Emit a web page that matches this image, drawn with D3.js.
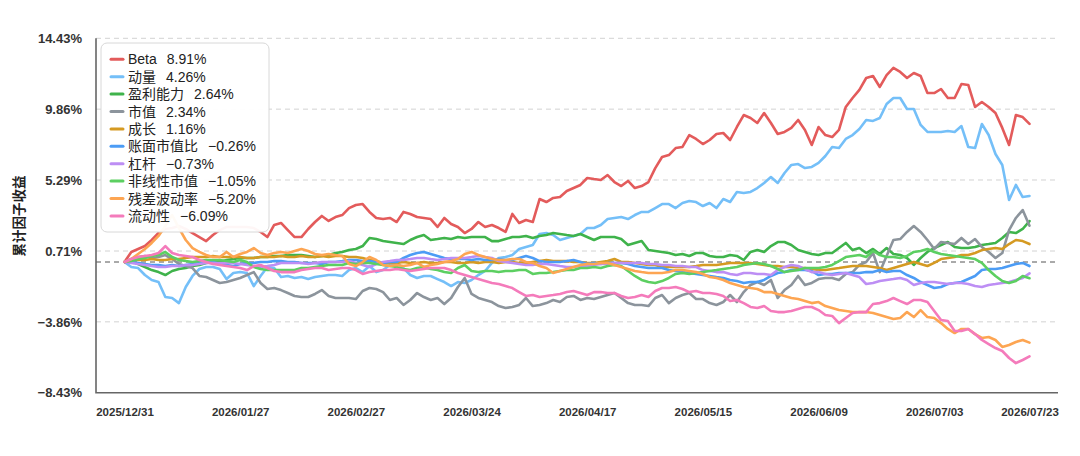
<!DOCTYPE html>
<html>
<head>
<meta charset="utf-8">
<script src="https://cdn.jsdelivr.net/npm/d3@7"></script>
<style>
	body { margin: 0; background: #fff; }
	svg { display: block; font-family: "Liberation Sans", Arial, "Noto Sans CJK SC", sans-serif; }
</style>
</head>
<body>
<div id="chart"></div>
<script>
const width = 1080,
	height = 456;

// x axis: trading days, labels every 17 days plus the last one
const tickIdx = [0, 17, 34, 51, 68, 85, 102, 119, 133];
const tickLabels = ["2025/12/31", "2026/01/27", "2026/02/27", "2026/03/24", "2026/04/17", "2026/05/15", "2026/06/09", "2026/07/03", "2026/07/23"];
const yTicks = [-8.43, -3.86, 0.71, 5.29, 9.86, 14.43];

const names = ["Beta", "动量", "盈利能力", "市值", "成长", "账面市值比", "杠杆", "非线性市值", "残差波动率", "流动性"];
const colors = ["#e35b5b", "#74bff8", "#3fb34b", "#8c949c", "#d59a22", "#4c9cf5", "#bd8ef4", "#5ccf61", "#fda552", "#f47bbb"];

const beta = [0, 0.65, 0.84, 1.03, 1.42, 1.87, 2.13, 2.19, 2.32, 2.13,
	1.87, 1.61, 1.35, 1.74, 2.06, 2.26, 2.26, 2.26, 2.26, 2.19,
	1.94, 1.61, 2.39, 2.52, 2.06, 1.61, 1.61, 2.13, 2.58, 2.97,
	2.65, 2.9, 3.03, 3.48, 3.68, 3.74, 3.23, 2.84, 2.77, 2.84,
	2.58, 3.23, 3.1, 2.9, 2.84, 2.77, 2.26, 2.84, 2.45, 2.26,
	1.87, 2.13, 2.58, 2.26, 2.39, 2.19, 1.94, 3.1, 2.52, 2.71,
	2.58, 4.06, 3.87, 4.13, 4.19, 4.58, 4.77, 4.97, 5.42, 5.35,
	5.29, 5.61, 5.16, 4.9, 5.23, 4.77, 4.9, 5.16, 6.06, 6.77,
	6.9, 7.35, 7.42, 8.19, 7.94, 7.61, 7.87, 8.26, 8.32, 7.87,
	8.71, 9.48, 9.29, 8.97, 9.61, 8.97, 8.26, 8.39, 8.65, 9.16,
	8.52, 7.55, 8.71, 8.19, 8.06, 8.52, 10.0, 10.58, 11.1, 11.87,
	12.0, 11.29, 12.06, 12.52, 12.26, 11.87, 12.19, 12.0, 10.9, 10.9,
	11.16, 10.58, 10.58, 11.48, 11.42, 10.0, 10.32, 10.0, 9.61, 8.65,
	7.55, 9.48, 9.35, 8.91];
const momentum = [0, -0.32, -0.39, -0.84, -1.16, -1.29, -2.26, -2.32, -2.65, -1.61,
	-0.9, -0.45, -0.32, -0.32, -0.45, -1.1, -0.71, -0.65, -0.71, -1.55,
	-0.9, -0.32, -0.39, -0.97, -0.9, -1.03, -0.97, -1.1, -0.97, -0.9,
	-0.84, -0.84, -0.9, -0.52, -0.39, -0.65, -0.26, -0.65, -0.52, -0.19,
	-0.06, -0.39, -0.84, -1.03, -0.9, -0.9, -1.1, -1.29, -1.55, -1.29,
	-1.35, -1.16, -0.84, -0.58, -0.06, 0.26, 0.32, 0.45, 0.84, 0.97,
	1.1, 1.81, 1.87, 1.74, 1.42, 1.55, 1.68, 1.81, 2.19, 2.19,
	2.39, 2.77, 2.84, 2.9, 2.77, 3.03, 3.23, 3.23, 3.48, 3.74,
	3.74, 3.48, 3.81, 3.94, 3.87, 3.61, 3.81, 3.48, 4.06, 3.87,
	4.52, 4.45, 4.52, 4.77, 5.1, 5.48, 5.1, 5.74, 6.26, 6.32,
	6.06, 6.13, 6.39, 6.84, 7.42, 7.35, 7.94, 8.19, 8.58, 9.16,
	9.1, 9.29, 10.19, 10.58, 10.58, 9.87, 9.87, 8.84, 8.39, 8.39,
	8.39, 8.45, 8.39, 8.77, 7.42, 7.35, 8.9, 8.19, 6.97, 6.26,
	4.0, 4.97, 4.19, 4.26];
const profitability = [0, 0.06, -0.13, -0.32, -0.52, -0.65, -0.84, -0.58, -0.45, -0.39,
	-0.26, -0.19, -0.06, 0, 0, 0.13, 0.19, 0.26, 0.26, 0.26,
	0.32, 0.32, 0.39, 0.39, 0.45, 0.45, 0.45, 0.39, 0.32, 0.39,
	0.45, 0.58, 0.65, 0.77, 0.84, 1.03, 1.55, 1.48, 1.35, 1.29,
	1.23, 1.16, 1.42, 1.61, 1.74, 1.42, 1.48, 1.55, 1.48, 1.61,
	1.55, 1.61, 1.61, 1.61, 1.35, 1.35, 1.48, 1.61, 1.61, 1.68,
	1.55, 1.68, 1.74, 1.87, 1.81, 1.74, 1.68, 1.81, 1.61, 1.42,
	1.61, 1.61, 1.61, 1.48, 1.1, 1.23, 1.35, 0.77, 0.71, 0.65,
	0.58, 0.45, 0.52, 0.39, 0.58, 0.58, 0.39, 0.32, 0.32, 0.45,
	0.39, 0.13, 0.65, 0.77, 0.65, 1.03, 1.29, 1.29, 1.1, 0.77,
	0.65, 0.52, 0.45, 0.58, 0.58, 0.9, 1.23, 0.77, 0.9, 0.58,
	0.84, 0.52, 0.9, 0.52, 0.45, 0.26, -0.19, 0.26, 0.65, 0.9,
	1.1, 1.29, 0.97, 0.9, 0.9, 0.97, 1.1, 1.16, 1.23, 1.55,
	1.94, 1.87, 2.13, 2.64];
const size = [0, 0.19, 0.32, 0.39, 0.26, 0.32, 0.45, 0.19, -0.13, -0.26,
	-0.39, -0.9, -0.97, -1.16, -1.35, -1.29, -1.16, -1.03, -0.84, -0.65,
	-1.35, -1.74, -1.68, -1.81, -2.0, -2.19, -2.26, -2.26, -2.06, -1.81,
	-2.19, -2.32, -2.32, -2.32, -2.39, -1.87, -1.68, -1.74, -1.94, -2.45,
	-2.32, -2.77, -2.45, -2.0, -2.26, -2.45, -2.32, -2.71, -2.32, -1.61,
	-1.03, -2.06, -2.32, -2.45, -2.58, -2.84, -2.97, -2.9, -2.77, -2.32,
	-2.84, -2.77, -2.65, -2.45, -2.58, -2.26, -2.19, -2.45, -2.32, -2.39,
	-2.26, -2.13, -2.0, -2.32, -2.65, -2.77, -2.77, -2.84, -2.32, -2.13,
	-2.65, -2.32, -2.13, -2.0, -2.39, -2.39, -2.65, -2.77, -2.58, -2.13,
	-2.58, -1.94, -1.48, -1.29, -1.48, -1.16, -2.32, -1.81, -1.48, -0.9,
	-1.48, -1.35, -1.1, -1.03, -1.03, -1.16, -0.77, -0.65, -0.19, 0,
	0.58, -0.65, 0.39, 1.42, 1.48, 1.94, 2.32, 1.94, 1.42, 0.84,
	1.29, 1.23, 1.16, 1.55, 1.16, 1.48, 0.97, 0.65, 0.26, 0.58,
	2.06, 2.84, 3.35, 2.34];
const growth = [0, 0.06, 0.13, 0.13, 0.19, 0.13, 0.13, 0.19, 0.19, 0.26,
	0.32, 0.32, 0.32, 0.39, 0.32, 0.32, 0.32, 0.32, 0.26, 0.26,
	0.32, 0.32, 0.32, 0.39, 0.32, 0.32, 0.39, 0.32, 0.32, 0.39,
	0.32, 0.39, 0.39, 0.32, 0.32, 0.26, 0.13, 0.06, -0.06, -0.06,
	-0.06, 0, -0.06, -0.06, 0, -0.06, -0.06, 0, 0, -0.06,
	-0.06, 0, -0.06, 0, 0, -0.06, 0, 0, -0.06, -0.06,
	0, 0.06, 0.13, 0.06, 0.06, 0.06, 0, 0, -0.06, -0.06,
	0, 0.06, 0.19, 0, 0, -0.06, -0.13, -0.19, -0.19, -0.32,
	-0.32, -0.32, -0.32, -0.32, -0.26, -0.19, -0.19, -0.19, -0.13, -0.06,
	-0.06, -0.06, -0.06, -0.13, -0.19, -0.26, -0.26, -0.32, -0.32, -0.39,
	-0.39, -0.45, -0.52, -0.52, -0.45, -0.39, -0.32, -0.26, -0.26, -0.26,
	-0.32, -0.39, -0.52, -0.39, -0.26, -0.13, 0, -0.13, -0.26, -0.06,
	0.19, 0.26, 0.32, 0.45, 0.45, 0.58, 0.77, 0.84, 0.9, 0.84,
	1.16, 1.42, 1.35, 1.16];
const bookToPrice = [0, 0, -0.06, -0.13, -0.19, -0.19, -0.26, -0.19, -0.26, -0.19,
	-0.13, -0.06, 0.06, 0, -0.13, -0.19, -0.26, -0.13, -0.06, -0.06,
	0, 0, 0.06, 0.06, 0, 0, -0.06, -0.06, -0.06, -0.13,
	0, 0, 0.06, 0.13, 0.13, 0.06, 0.06, 0, -0.06, 0,
	0, 0.26, 0.45, 0.58, 0.65, 0.52, 0.39, 0.26, 0.19, 0.19,
	0.19, 0.13, 0.19, 0.13, 0.13, 0.19, 0.13, 0.13, 0.26, 0.39,
	0.26, 0.06, 0, 0, 0, 0.06, 0.13, 0, -0.13, -0.06,
	-0.13, -0.06, -0.06, -0.06, -0.13, -0.26, -0.32, -0.39, -0.39, -0.39,
	-0.52, -0.58, -0.65, -0.71, -0.77, -0.84, -0.9, -0.97, -1.03, -1.16,
	-1.23, -1.35, -1.29, -1.29, -1.16, -0.9, -0.71, -0.65, -0.52, -0.52,
	-0.52, -0.58, -0.84, -0.77, -0.77, -0.71, -0.71, -0.71, -0.71, -0.65,
	-0.65, -0.52, -0.65, -0.58, -0.58, -0.84, -1.03, -1.29, -1.48, -1.68,
	-1.61, -1.42, -1.35, -1.29, -1.1, -0.9, -0.52, -0.45, -0.45, -0.39,
	-0.26, -0.13, -0.06, -0.26];
const leverage = [0, -0.06, -0.13, -0.19, -0.26, -0.32, -0.32, -0.26, -0.26, -0.19,
	-0.19, -0.13, -0.06, -0.06, -0.06, -0.06, -0.06, -0.13, -0.19, -0.26,
	-0.32, -0.26, -0.19, -0.06, -0.06, -0.06, -0.06, -0.13, -0.06, 0,
	0, 0, 0, 0.06, -0.06, -0.19, -0.32, -0.13, 0, 0.06,
	0.13, 0.13, 0.19, 0.26, 0.26, 0.19, 0.13, 0.19, 0.26, 0.26,
	0.26, 0.32, 0.39, 0.32, 0.26, 0.06, 0, -0.06, -0.13, -0.19,
	-0.19, -0.13, -0.13, -0.19, -0.26, -0.32, -0.32, -0.26, -0.26, -0.19,
	-0.13, -0.13, -0.06, -0.06, -0.06, -0.06, -0.06, -0.13, -0.13, -0.19,
	-0.19, -0.26, -0.26, -0.32, -0.32, -0.52, -0.58, -0.65, -0.65, -0.77,
	-0.84, -0.71, -0.71, -0.77, -0.77, -0.84, -0.52, -0.32, -0.19, -0.26,
	-0.45, -0.65, -0.65, -0.77, -0.84, -0.77, -0.71, -0.84, -0.97, -1.42,
	-1.35, -1.23, -1.16, -1.1, -1.03, -1.16, -1.48, -1.35, -1.29, -1.29,
	-1.35, -1.42, -1.35, -1.35, -1.42, -1.55, -1.61, -1.48, -1.42, -1.35,
	-1.29, -1.16, -1.03, -0.73];
const nonlinSize = [0, 0.06, 0.19, 0.26, 0.39, 0.45, 0.65, 0.32, 0.13, 0.06,
	0, 0.06, 0.13, 0.13, 0.13, 0.06, 0, 0.13, 0, -0.32,
	-0.45, -0.52, -0.52, -0.52, -0.52, -0.52, -0.39, -0.39, -0.32, -0.26,
	-0.19, -0.19, -0.19, -0.06, -0.13, -0.06, -0.06, -0.13, -0.19, -0.26,
	-0.32, -0.45, -0.52, -0.39, -0.32, -0.45, -0.52, -0.65, -0.71, -0.39,
	-0.19, -0.58, -0.65, -0.58, -0.58, -0.65, -0.58, -0.58, -0.52, -0.52,
	-0.77, -0.71, -0.71, -0.65, -0.58, -0.52, -0.52, -0.39, -0.39, -0.32,
	-0.39, -0.26, -0.19, -0.26, -0.58, -0.9, -1.16, -1.29, -1.35, -1.23,
	-1.03, -0.77, -0.71, -0.77, -0.71, -0.65, -0.58, -0.52, -0.45, -0.39,
	-0.32, -0.19, -0.13, -0.06, -0.13, -0.26, -0.45, -0.65, -0.58, -0.52,
	-0.39, -0.39, -0.39, -0.32, -0.19, 0.06, 0.32, 0.39, 0.45, 0.32,
	0.71, 0.45, 0.32, 0.32, 0.26, 0.39, 0.65, 0.71, 0.84, 0.65,
	0.52, 0.45, 0.39, 0.32, 0.26, 0.19, -0.06, -0.52, -0.9, -1.23,
	-1.35, -1.23, -0.9, -1.05];
const residVol = [0, 0.19, 0.52, 0.84, 1.23, 1.68, 2.32, 3.03, 2.19, 1.42,
	0.9, 0.65, 0.45, 0.32, 0.32, 0.65, 0.32, 0.52, 0.65, 0.9,
	0.58, 0.45, 0.58, 0.65, 0.58, 0.71, 0.84, 0.71, 0.52, 0.45,
	0.52, 0.45, 0.39, -0.13, -0.26, 0, 0.32, 0.13, -0.19, -0.26,
	-0.19, -0.26, -0.19, -0.06, -0.32, -0.19, -0.13, 0, 0.06, 0.19,
	0.52, 0.65, 0.45, 0.32, 0.19, 0.13, 0.13, 0.19, 0.19, 0,
	-0.06, -0.26, -0.39, -0.71, -0.58, -0.45, -0.32, -0.19, -0.13, -0.13,
	-0.06, -0.06, -0.19, -0.32, -0.45, -0.58, -0.65, -0.71, -0.71, -0.71,
	-0.65, -0.52, -0.52, -0.58, -0.65, -0.77, -0.97, -1.03, -1.16, -1.35,
	-1.48, -1.61, -1.68, -1.74, -1.94, -1.94, -2.06, -2.19, -2.32, -2.39,
	-2.52, -2.65, -2.58, -2.84, -2.97, -3.1, -3.16, -3.23, -3.23, -3.23,
	-3.29, -3.42, -3.55, -3.68, -3.61, -3.23, -3.55, -3.1, -3.55, -3.61,
	-3.94, -4.32, -4.58, -4.32, -4.32, -4.65, -4.9, -4.84, -5.03, -5.48,
	-5.35, -5.16, -5.03, -5.2];
const liquidity = [0, 0.19, 0.32, 0.39, 0.45, 0.58, 1.03, 0.58, 0.45, 0.39,
	0.32, 0.13, 0, -0.13, -0.19, -0.26, -0.32, -0.39, -0.52, -0.26,
	-0.19, -0.39, -0.58, -0.65, -0.65, -0.65, -0.52, -0.45, -0.39, -0.39,
	-0.52, -0.45, -0.39, -0.39, -0.52, -0.77, -0.65, -0.58, -0.52, -0.52,
	-0.45, -0.52, -0.58, -0.52, -0.45, -0.39, -0.39, -0.39, -0.52, -0.71,
	-0.84, -0.97, -1.1, -1.23, -1.35, -1.42, -1.55, -1.68, -1.94, -2.19,
	-2.13, -2.26, -2.19, -2.13, -2.06, -1.94, -1.87, -2.0, -2.13, -1.94,
	-1.94, -2.0, -2.0, -2.19, -2.32, -2.26, -2.13, -2.26, -1.87, -1.68,
	-1.68, -1.61, -1.74, -1.94, -1.87, -2.0, -2.0, -2.06, -2.19, -2.52,
	-2.45, -2.65, -2.9, -2.97, -2.84, -3.16, -3.23, -3.23, -3.16, -3.03,
	-2.9, -2.9, -3.1, -3.42, -3.48, -3.94, -3.61, -3.29, -3.23, -3.23,
	-2.71, -2.65, -2.52, -2.32, -2.52, -2.71, -2.45, -2.45, -2.58, -3.16,
	-3.74, -3.81, -4.45, -4.45, -4.32, -4.65, -5.03, -5.29, -5.55, -5.74,
	-6.19, -6.52, -6.32, -6.09];

const seriesValues = [beta, momentum, profitability, size, growth, bookToPrice, leverage, nonlinSize, residVol, liquidity];

const series = names.map((name, k) => ({
	name: name,
	color: colors[k],
	values: seriesValues[k],
	last: seriesValues[k][seriesValues[k].length - 1]
}));

const plot = { left: 96, right: 1058, top: 38.3, bottom: 392.7 };

const x = d3.scaleLinear().domain([0, 133]).range([124.5, 1029.5]);
const y = d3.scaleLinear().domain([yTicks[0], yTicks[yTicks.length - 1]]).range([plot.bottom, plot.top]);

const fmt = (v) => (v < 0 ? "\u2212" : "") + Math.abs(v).toFixed(2) + "%";

const svg = d3
	.select("#chart")
	.append("svg")
	.attr("width", width)
	.attr("height", height);

// grid lines
svg.append("g")
	.selectAll("line")
	.data(yTicks.slice(1))
	.join("line")
	.attr("x1", plot.left)
	.attr("x2", plot.right)
	.attr("y1", (d) => y(d))
	.attr("y2", (d) => y(d))
	.attr("stroke", "#d2d2d2")
	.attr("stroke-width", 1)
	.attr("stroke-dasharray", "5,4");

// zero line
svg.append("line")
	.attr("x1", plot.left)
	.attr("x2", plot.right)
	.attr("y1", y(0))
	.attr("y2", y(0))
	.attr("stroke", "#555")
	.attr("stroke-width", 1)
	.attr("stroke-dasharray", "5,4");

// y axis
const yAxis = svg.append("g")
	.attr("transform", `translate(${plot.left},0)`)
	.call(d3.axisLeft(y).tickValues(yTicks).tickSize(0).tickPadding(14).tickFormat(fmt));
yAxis.select(".domain").remove();
yAxis.selectAll("text")
	.attr("font-size", 13)
	.attr("font-weight", "bold")
	.attr("fill", "#333")
	.attr("font-family", "Liberation Sans, Arial, sans-serif");

// x axis
const xAxis = svg.append("g")
	.attr("transform", `translate(0,${plot.bottom})`)
	.call(d3.axisBottom(x).tickValues(tickIdx).tickSize(0).tickPadding(15).tickFormat((d, i) => tickLabels[i]));
xAxis.select(".domain").remove();
xAxis.selectAll("text")
	.attr("font-size", 11.5)
	.attr("font-weight", "bold")
	.attr("fill", "#333")
	.attr("font-family", "Liberation Sans, Arial, sans-serif");

// axis lines
svg.append("path")
	.attr("d", `M${plot.left},${plot.top}V${plot.bottom}H${plot.right}`)
	.attr("fill", "none")
	.attr("stroke", "#666")
	.attr("stroke-width", 1.6);

// y title
svg.append("text")
	.attr("transform", `translate(23.5,216) rotate(-90)`)
	.attr("text-anchor", "middle")
	.attr("font-size", 13.5)
	.attr("font-weight", "bold")
	.attr("fill", "#222")
	.text("累计因子收益");

// lines
const line = d3
	.line()
	.x((d, i) => x(i))
	.y((d) => y(d));

svg.append("g")
	.selectAll("path")
	.data(series)
	.join("path")
	.attr("d", (d) => line(d.values))
	.attr("fill", "none")
	.attr("stroke", (d) => d.color)
	.attr("stroke-width", 2.6)
	.attr("stroke-linejoin", "round")
	.attr("stroke-linecap", "round");

// legend
const legend = svg.append("g");
legend.append("rect")
	.attr("x", 101)
	.attr("y", 43)
	.attr("width", 168)
	.attr("height", 189)
	.attr("rx", 6)
	.attr("fill", "rgba(255,255,255,0.95)")
	.attr("stroke", "#d8d8d8")
	.attr("stroke-width", 1);

const item = legend
	.selectAll("g.item")
	.data(series)
	.join("g")
	.attr("class", "item")
	.attr("transform", (d, i) => `translate(0,${59.3 + i * 17.4})`);

item.append("line")
	.attr("x1", 111)
	.attr("x2", 123)
	.attr("y1", 0)
	.attr("y2", 0)
	.attr("stroke", (d) => d.color)
	.attr("stroke-width", 3)
	.attr("stroke-linecap", "round");

const label = item.append("text")
	.attr("x", 128)
	.attr("y", 5)
	.attr("font-size", 14)
	.attr("fill", "#222");
label.append("tspan").text((d) => d.name);
label.append("tspan").attr("dx", 10).text((d) => fmt(d.last));
</script>
</body>
</html>
